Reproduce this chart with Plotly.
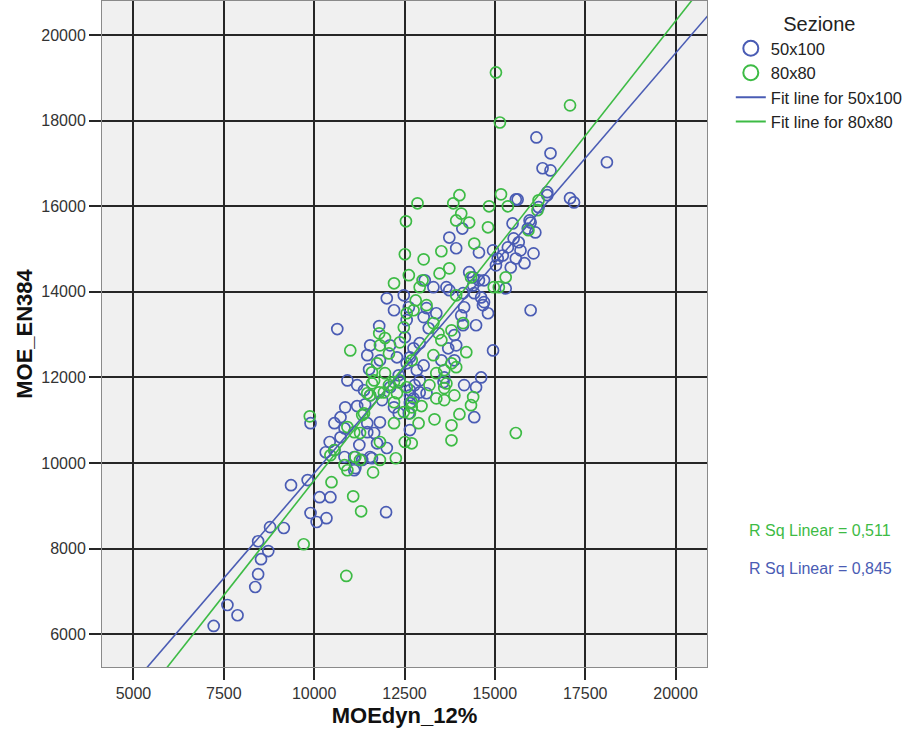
import plotly.graph_objects as go

# ---------------- data ----------------
blue_x = [7220, 7600, 7880, 8370, 8450, 8530, 8730, 8450, 8780, 9160, 9360, 9820, 10150, 10450, 9900,
          10070, 10340, 11990, 16150, 16540, 16320, 16540, 18100, 16450, 15580, 15630, 17080, 17190,
          16450, 16210, 15960, 15490, 15990, 16120, 15910, 14100, 13740, 13930, 14560, 14950, 15080,
          15220, 15360, 15520, 15660, 15710, 15580, 15440, 15820, 16070, 15030, 14290, 14400, 14560,
          14700, 15300, 13660, 13740, 14120, 14430, 14620, 14700, 14670, 14150, 14070, 14810, 14480,
          15990, 13300, 13060, 12620, 13110, 10640, 11800, 11550, 11470, 11520, 10920, 11190, 11380,
          11550, 10860, 11190, 12210, 12560, 13030, 13380, 13170, 14400, 14120, 13880, 13710, 13520,
          13880, 13930, 12920, 12750, 12650, 13030, 12840, 12560, 12290, 12340, 12100, 12650, 12920,
          13110, 13600, 14150, 14480, 14620, 14950, 12010, 12480, 12750, 12210, 11880, 11820, 12100,
          12510, 10730, 10560, 9900, 11410, 11820, 10840, 11470, 11660, 10430, 10730, 10320, 10560,
          11250, 11740, 12010, 10840, 11110, 11330, 11550, 11140, 12370, 12780, 12920, 12650, 12620,
          12650, 14430, 13580, 11470, 11600, 11110, 12650, 12340]
blue_y = [6190, 6680, 6440, 7100, 7400, 7750, 7940, 8170, 8500, 8480, 9480, 9600, 9200, 9200, 8830,
          8620, 8710, 8850, 17610, 17240, 16890, 16840, 17030, 16330, 16160, 16160, 16190, 16090,
          16260, 15980, 15670, 15600, 15620, 15390, 15480, 15480, 15270, 15020, 14920, 14970, 14780,
          14850, 15040, 15250, 15160, 14970, 14780, 14570, 14670, 14900, 14620, 14460, 14340, 14270,
          14270, 14080, 14110, 14040, 13970, 13970, 13870, 13760, 13690, 13640, 13450, 13500, 13220,
          13570, 14110, 14270, 13640, 13620, 13130, 13200, 12750, 12520, 12190, 11930, 11820, 11700,
          11580, 11300, 11330, 13570, 13340, 13410, 13500, 13150, 14150, 13220, 12990, 12680, 12400,
          12400, 12750, 12800, 12680, 12470, 12280, 12170, 12330, 12470, 12050, 11770, 11700, 11930,
          11630, 12000, 11820, 11770, 12000, 12630, 13850, 13920, 11510, 11300, 11470, 12400, 12750,
          12940, 11070, 10930, 10930, 11370, 10950, 10810, 10720, 10700, 10490, 10600, 10250, 10300,
          10420, 10460, 10350, 10140, 10140, 10070, 10140, 9880, 11890, 11820, 11650, 11400, 11160,
          10770, 11070, 11890, 10930, 10110, 9830, 11580, 11160]

green_x = [10480, 11080, 11300, 9710, 10890, 15030, 17080, 15140, 15170, 14840, 15360, 16210, 16180,
           14020, 13850, 14070, 13930, 14290, 14810, 14430, 15930, 13740, 14340, 15300, 14970, 15110,
           13930, 14120, 12860, 12540, 13520, 12510, 13030, 12620, 13470, 12210, 13000, 12810, 12920,
           11000, 11800, 11960, 11820, 12070, 11740, 11600, 11660, 11800, 12290, 12210, 12560, 12480,
           13110, 13300, 13440, 13520, 13800, 14210, 13930, 13800, 13600, 13380, 13300, 13190, 13600,
           13880, 14400, 14340, 12750, 12560, 12370, 11960, 12370, 12700, 9880, 12210, 11600, 12070,
           11550, 11330, 10920, 11110, 12210, 12480, 12650, 12890, 13380, 13600, 12970, 12700, 13330,
           13800, 14020, 13660, 13800, 12510, 12700, 11820, 10560, 10450, 10840, 10920, 11270, 11820,
           12260, 11630, 12700, 15580, 11470, 11930, 11140, 11270, 11380]
green_y = [9550, 9220, 8870, 8100, 7360, 19130, 18360, 17960, 16280, 16000, 16000, 16140, 15910,
           16260, 16070, 15830, 15670, 15620, 15510, 15130, 15440, 14550, 14340, 14340, 14110, 14110,
           13920, 13270, 16070, 15650, 14950, 14880, 14760, 14390, 14430, 14200, 14270, 13800, 14110,
           12630, 13030, 12920, 12750, 12560, 12330, 12120, 11930, 11650, 11630, 11420, 11770, 13170,
           13690, 13270, 13030, 12870, 13100, 12590, 12240, 12330, 12170, 12100, 12520, 11820, 11750,
           11580, 11540, 11350, 13570, 13500, 12820, 12100, 11930, 12400, 11090, 11890, 11860, 11820,
           11580, 11120, 10840, 10720, 10930, 11190, 11160, 10930, 11510, 11470, 11330, 11300, 11020,
           10880, 11140, 11860, 10530, 10490, 10460, 10490, 10300, 10180, 9950, 9830, 10070, 10070,
           10110, 9780, 11420, 10700, 11630, 11650, 10140, 10700, 11160]

# linear fit coefficients (slope, intercept) and R^2 as reported
fit_blue = (0.982, -60.0)
fit_green = (1.074, -1149.0)
fit_x = [4000, 21500]
r2_blue = "0,845"
r2_green = "0,511"

x_ticks = [5000, 7500, 10000, 12500, 15000, 17500, 20000]
y_ticks = [6000, 8000, 10000, 12000, 14000, 16000, 18000, 20000]

BLUE = "#4a5cb4"
GREEN = "#3dbb45"
FONT = "Liberation Sans, Arial, sans-serif"

fig = go.Figure()

# data points (no legend)
fig.add_trace(go.Scatter(x=blue_x, y=blue_y, mode="markers", showlegend=False,
                         marker=dict(symbol="circle-open", size=11, color=BLUE, line=dict(width=1.7))))
fig.add_trace(go.Scatter(x=green_x, y=green_y, mode="markers", showlegend=False,
                         marker=dict(symbol="circle-open", size=11, color=GREEN, line=dict(width=1.7))))

# fit lines
fig.add_trace(go.Scatter(x=fit_x, y=[fit_blue[0] * v + fit_blue[1] for v in fit_x], mode="lines",
                         showlegend=False, line=dict(color=BLUE, width=1.6)))
fig.add_trace(go.Scatter(x=fit_x, y=[fit_green[0] * v + fit_green[1] for v in fit_x], mode="lines",
                         showlegend=False, line=dict(color=GREEN, width=1.6)))

# legend-only entries
fig.add_trace(go.Scatter(x=[None], y=[None], mode="markers", name="50x100",
                         marker=dict(symbol="circle-open", size=15, color=BLUE, line=dict(width=2))))
fig.add_trace(go.Scatter(x=[None], y=[None], mode="markers", name="80x80",
                         marker=dict(symbol="circle-open", size=15, color=GREEN, line=dict(width=2))))
fig.add_trace(go.Scatter(x=[None], y=[None], mode="lines", name="Fit line for 50x100",
                         line=dict(color=BLUE, width=2)))
fig.add_trace(go.Scatter(x=[None], y=[None], mode="lines", name="Fit line for 80x80",
                         line=dict(color=GREEN, width=2)))

axis_common = dict(showgrid=True, gridcolor="#262626", gridwidth=2, zeroline=False,
                   showline=True, linecolor="#8a8a8a", linewidth=1, mirror=True,
                   ticks="outside", ticklen=12, tickwidth=2, tickcolor="#262626",
                   tickfont=dict(family=FONT, size=16, color="#333333"))

fig.update_xaxes(range=[4130, 20870], tickvals=x_ticks, ticktext=[str(v) for v in x_ticks],
                 title=dict(text="<b>MOEdyn_12%</b>", font=dict(family=FONT, size=22, color="#111111"),
                            standoff=6),
                 **axis_common)
fig.update_yaxes(range=[5230, 20800], tickvals=y_ticks, ticktext=[str(v) for v in y_ticks],
                 title=dict(text="<b>MOE_EN384</b>", font=dict(family=FONT, size=22, color="#111111"),
                            standoff=2),
                 **axis_common)

fig.add_annotation(text="R Sq Linear = " + r2_green, xref="paper", yref="paper",
                   x=(752 - 102) / 610, y=(667 - 530) / 666, xanchor="left", yanchor="middle",
                   showarrow=False, font=dict(family=FONT, size=16, color=GREEN))
fig.add_annotation(text="R Sq Linear = " + r2_blue, xref="paper", yref="paper",
                   x=(752 - 102) / 610, y=(667 - 568) / 666, xanchor="left", yanchor="middle",
                   showarrow=False, font=dict(family=FONT, size=16, color=BLUE))

fig.update_layout(
    width=909, height=739,
    margin=dict(l=102, r=197, t=1, b=72),
    paper_bgcolor="white", plot_bgcolor="#f0f0f0",
    font=dict(family=FONT, size=16, color="#222222"),
    legend=dict(x=(736 - 102) / 610, y=1.0 - 4 / 666, xanchor="left", yanchor="top",
                bgcolor="rgba(0,0,0,0)", tracegroupgap=0,
                title=dict(text="Sezione", side="top center", font=dict(family=FONT, size=20, color="#222222")),
                font=dict(family=FONT, size=16.5, color="#222222")),
)

fig.write_html("out.html", config={"displayModeBar": False},
               post_script="document.body.style.margin='0';document.body.style.overflow='hidden';")
